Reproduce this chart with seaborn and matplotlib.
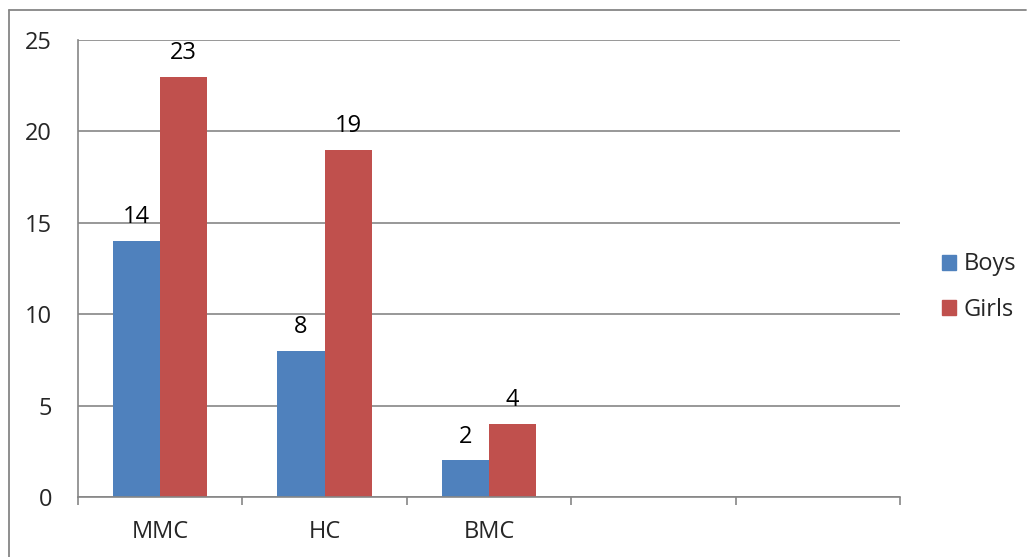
import numpy as np
import pandas as pd
import matplotlib
matplotlib.use("Agg")
import matplotlib.pyplot as plt
from matplotlib.lines import Line2D
import seaborn as sns

# Enrolment by college and gender
colleges = ["MMC", "HC", "BMC"]
boys = [14, 8, 2]
girls = [23, 19, 4]
series_names = ["Boys", "Girls"]
y_ticks = [0, 5, 10, 15, 20, 25]

BLUE = "#4F81BD"
RED = "#C0504D"
GRID = "#868686"
FS = 17

df = pd.DataFrame({
    "college": colleges * 2,
    "count": boys + girls,
    "gender": [series_names[0]] * len(colleges) + [series_names[1]] * len(colleges),
})

sns.set_style("white")
plt.rcParams["font.family"] = ["Open Sans", "DejaVu Sans"]
plt.rcParams["font.size"] = FS

fig = plt.figure(figsize=(10.27, 5.57), dpi=100)
ax = fig.add_axes([78 / 1027, 1 - 497 / 557, 822 / 1027, 457 / 557])

sns.barplot(data=df, x="college", y="count", hue="gender", order=colleges,
            hue_order=series_names, palette=[BLUE, RED], width=0.573, gap=0,
            linewidth=0, saturation=1, ax=ax)

# value labels on top of each bar
for cont in ax.containers:
    ax.bar_label(cont, fmt="%d", padding=8.5, fontsize=FS, color="black")

# two empty category slots to the right
ax.set_xlim(-0.5, 4.5)
ax.set_ylim(0, 25)
ax.set_yticks(y_ticks)
ax.set_xticks(range(len(colleges)), labels=colleges)
ax.set_xticks(np.arange(-0.5, 5.0, 1.0), minor=True)
ax.set_xlabel("")
ax.set_ylabel("")

ax.yaxis.grid(True, color=GRID, linewidth=1.2)
ax.set_axisbelow(True)
for side in ["top", "right"]:
    ax.spines[side].set_visible(False)
for side in ["left", "bottom"]:
    ax.spines[side].set_color(GRID)
    ax.spines[side].set_linewidth(1.2)

ax.tick_params(axis="y", which="major", length=5.8, width=1.2, color=GRID,
               pad=13, labelsize=FS, direction="out")
ax.tick_params(axis="x", which="major", length=0, pad=16.5, labelsize=FS)
ax.tick_params(axis="x", which="minor", length=5.8, width=1.2, color=GRID,
               direction="out", bottom=True)

# legend to the right of the plot
handles = [plt.Rectangle((0, 0), 1, 1, color=c) for c in (BLUE, RED)]
leg = ax.legend(handles, series_names, loc="center left",
                bbox_to_anchor=(942 / 1027, 1 - 287 / 557),
                bbox_transform=fig.transFigure, frameon=False, borderpad=0,
                handlelength=0.6, handleheight=0.6, handletextpad=0.3,
                labelspacing=0.9, fontsize=FS, borderaxespad=0)

# chart border
fig.add_artist(Line2D([9 / 1027, 9 / 1027], [0, 1 - 10 / 557],
                      transform=fig.transFigure, color=GRID, linewidth=1.3))
fig.add_artist(Line2D([9 / 1027, 1026 / 1027], [1 - 10 / 557, 1 - 10 / 557],
                      transform=fig.transFigure, color=GRID, linewidth=1.3))

fig.savefig("out.png", dpi=100, facecolor="white")
